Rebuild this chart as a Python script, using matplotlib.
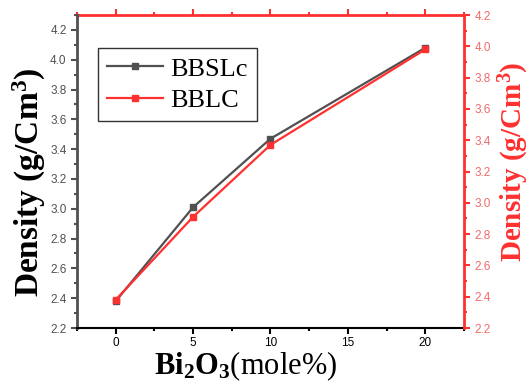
import matplotlib.pyplot as plt
from matplotlib.ticker import MultipleLocator

# data
x_mol = [0, 5, 10, 20]
bbslc = [2.38, 3.01, 3.47, 4.08]
bblc = [2.38, 2.91, 3.37, 3.98]

GRAY = "#505050"
RED = "#ff3030"
RED_LABEL = "#f06a6a"
SERIF = "Liberation Serif"

plt.rcParams["mathtext.fontset"] = "custom"
plt.rcParams["mathtext.rm"] = SERIF
plt.rcParams["mathtext.it"] = SERIF + ":italic"
plt.rcParams["mathtext.bf"] = SERIF + ":bold"

fig = plt.figure(figsize=(5.32, 3.85), dpi=100)
ax = fig.add_axes([0.1447, 0.148, 0.7273, 0.813])
ax2 = ax.twinx()

l1, = ax.plot(x_mol, bbslc, color=GRAY, marker="s", lw=1.6, ms=4.5, label="BBSLc")
l2, = ax2.plot(x_mol, bblc, color=RED, marker="s", lw=1.6, ms=4.5, label="BBLC")

ax.set_xlim(-2.5, 22.5)
ax.set_ylim(2.2, 4.3)
ax2.set_ylim(2.2, 4.2)

ax.xaxis.set_major_locator(MultipleLocator(5))
ax.xaxis.set_minor_locator(MultipleLocator(2.5))
ax.yaxis.set_major_locator(MultipleLocator(0.2))
ax.yaxis.set_minor_locator(MultipleLocator(0.1))
ax2.yaxis.set_major_locator(MultipleLocator(0.2))
ax2.yaxis.set_minor_locator(MultipleLocator(0.1))

ax.tick_params(axis="x", which="major", direction="out", length=4, width=1.5, pad=2.5,
               color="black", labelcolor="black", labelsize=8.5)
ax.tick_params(axis="x", which="minor", direction="out", length=2, width=1.5, color="black")
ax.tick_params(axis="y", which="major", direction="out", length=4, width=1.5,
               color=GRAY, labelcolor=GRAY, labelsize=8.5)
ax.tick_params(axis="y", which="minor", direction="out", length=2, width=1.5, color=GRAY)
ax2.tick_params(axis="y", which="major", direction="out", length=4, width=1.5,
                color=RED, labelcolor=RED_LABEL, labelsize=8.5)
ax2.tick_params(axis="y", which="minor", direction="out", length=2, width=1.5, color=RED)
for lab in ax.get_xticklabels() + ax.get_yticklabels() + ax2.get_yticklabels():
    lab.set_fontfamily("Liberation Sans")

# red top axis with ticks only
top = ax.secondary_xaxis("top")
top.xaxis.set_major_locator(MultipleLocator(5))
top.xaxis.set_minor_locator(MultipleLocator(2.5))
top.tick_params(which="major", direction="out", length=4, width=1.5, color=RED, labeltop=False)
top.tick_params(which="minor", direction="out", length=2, width=1.5, color=RED)
top.spines["top"].set_color(RED)
top.spines["top"].set_linewidth(2)

ax.spines["left"].set_color(GRAY)
ax.spines["left"].set_linewidth(2)
ax.spines["bottom"].set_color("black")
ax.spines["bottom"].set_linewidth(1.5)
ax.spines["top"].set_visible(False)
ax2.spines["top"].set_visible(False)
ax2.spines["left"].set_visible(False)
ax2.spines["bottom"].set_visible(False)
ax2.spines["right"].set_color(RED)
ax2.spines["right"].set_linewidth(2)
ax.spines["right"].set_visible(False)

ylab = r"Density (g/Cm$^\mathbf{3}$)"
ax.set_ylabel(ylab, fontsize=24, fontweight="bold", family=SERIF, color="black")
ax.yaxis.set_label_coords(-0.075, 0.466)
ax2.set_ylabel(ylab, fontsize=21, fontweight="bold", family=SERIF, color=RED)
ax2.yaxis.set_label_coords(1.085, 0.53)
ax.set_xlabel(r"$\mathbf{Bi_2O_3}$(mole%)", fontsize=22, family=SERIF)
ax.xaxis.set_label_coords(0.437, -0.07)

leg = ax.legend([l1, l2], ["BBSLc", "BBLC"], loc="upper left",
                bbox_to_anchor=(0.054, 0.895), borderaxespad=0,
                prop={"family": SERIF, "size": 19},
                frameon=True, fancybox=False, edgecolor="black",
                handlelength=2.1, handletextpad=0.3, borderpad=0.35, labelspacing=0.3)
leg.get_frame().set_linewidth(1)

fig.savefig("out.png", dpi=100)
